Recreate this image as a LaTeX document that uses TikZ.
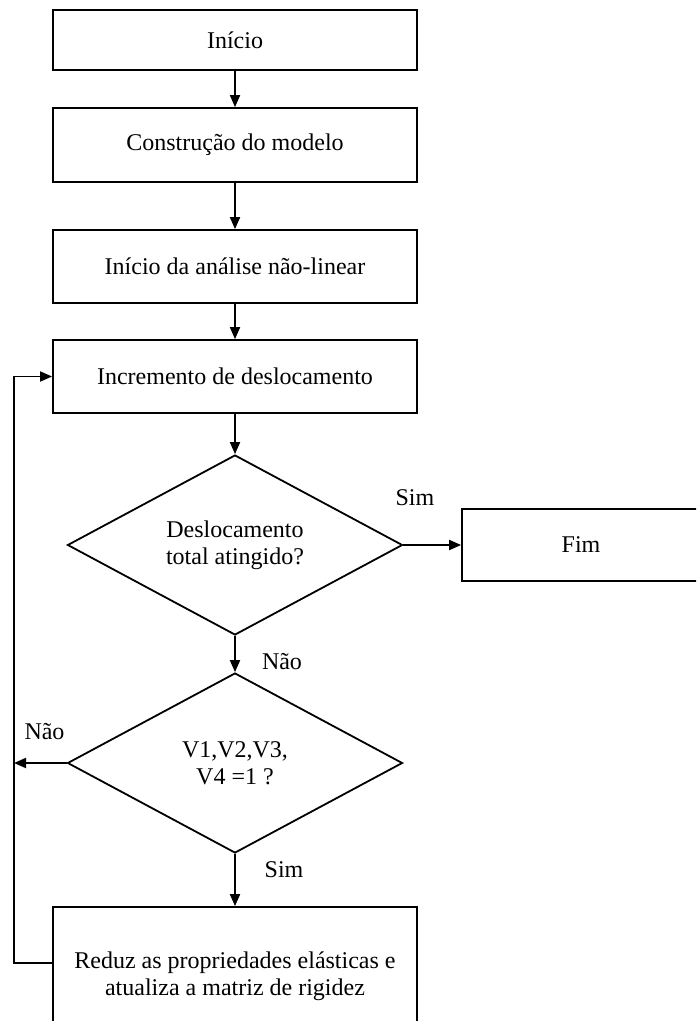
\documentclass[tikz,border=0pt]{standalone}
\usepackage{fontspec}
\setmainfont{Liberation Serif}
\usepackage{tikz}
\usetikzlibrary{shapes.geometric, arrows.meta, positioning, calc}
\tikzset{
  stepbox/.style={rectangle, minimum width=182pt, minimum height=36.5pt, text centered, draw=black, line width=0.9pt, font=\fontsize{12}{13.5}\selectfont},
  endbox/.style={rectangle, minimum width=119pt, minimum height=36pt, text centered, draw=black, line width=0.9pt, font=\fontsize{12}{13.5}\selectfont},
  decision/.style={diamond, aspect=1.86, minimum width=167.5pt, minimum height=90pt, inner sep=0pt, align=center, draw=black, line width=0.9pt, font=\fontsize{12}{13.5}\selectfont},
  lbl/.style={font=\fontsize{12}{13.5}\selectfont},
  arrow/.style={line width=0.9pt, -{Triangle[length=6pt, width=5pt]}}
}

\begin{document}
\begin{tikzpicture}[x=0.5pt, y=-0.5pt]
    \useasboundingbox (0,0) rectangle (696,1021);
    \clip (0,0) rectangle (696,1021);
    % Nodes
    \node[stepbox, minimum height=30pt] (inicio) at (235,40) {Início};
    \node[stepbox, minimum height=37pt] (modelo) at (235,145) {Construção do modelo};
    \node[stepbox] (analise) at (235,266.5) {Início da análise não-linear};
    \node[stepbox] (incremento) at (235,376.5) {Incremento de deslocamento};
    \node[decision] (desloc) at (235,545) {Deslocamento\\total atingido?};
    \node[endbox] (fim) at (581,545) {Fim};
    \node[decision] (verif) at (235,763) {V1,V2,V3,\\V4 =1 ?};
    \node[stepbox, minimum height=69pt, align=center] (reduz) at (235,976) {Reduz as propriedades elásticas e\\atualiza a matriz de rigidez};
    \coordinate (ret) at (14,963);

    % Arrows
    \draw[arrow] (inicio) -- (modelo);
    \draw[arrow] (modelo) -- (analise);
    \draw[arrow] (analise) -- (incremento);
    \draw[arrow] (incremento) -- (desloc);
    \draw[arrow] (desloc) -- node[lbl, pos=0.2, yshift=23.5pt] {Sim} (fim);
    \draw[arrow] (desloc) -- node[lbl, xshift=23.5pt, yshift=-4pt] {Não} (verif);
    \draw[arrow] (verif) -- node[lbl, xshift=24.5pt, yshift=5pt] {Sim} (reduz);
    \draw[arrow] (verif.west) -- node[lbl, pos=0.42, yshift=15.5pt] {Não} (verif.west -| ret);
    \draw[arrow] (reduz.west |- ret) -- (ret) |- (incremento.west);
\end{tikzpicture}
\end{document}
